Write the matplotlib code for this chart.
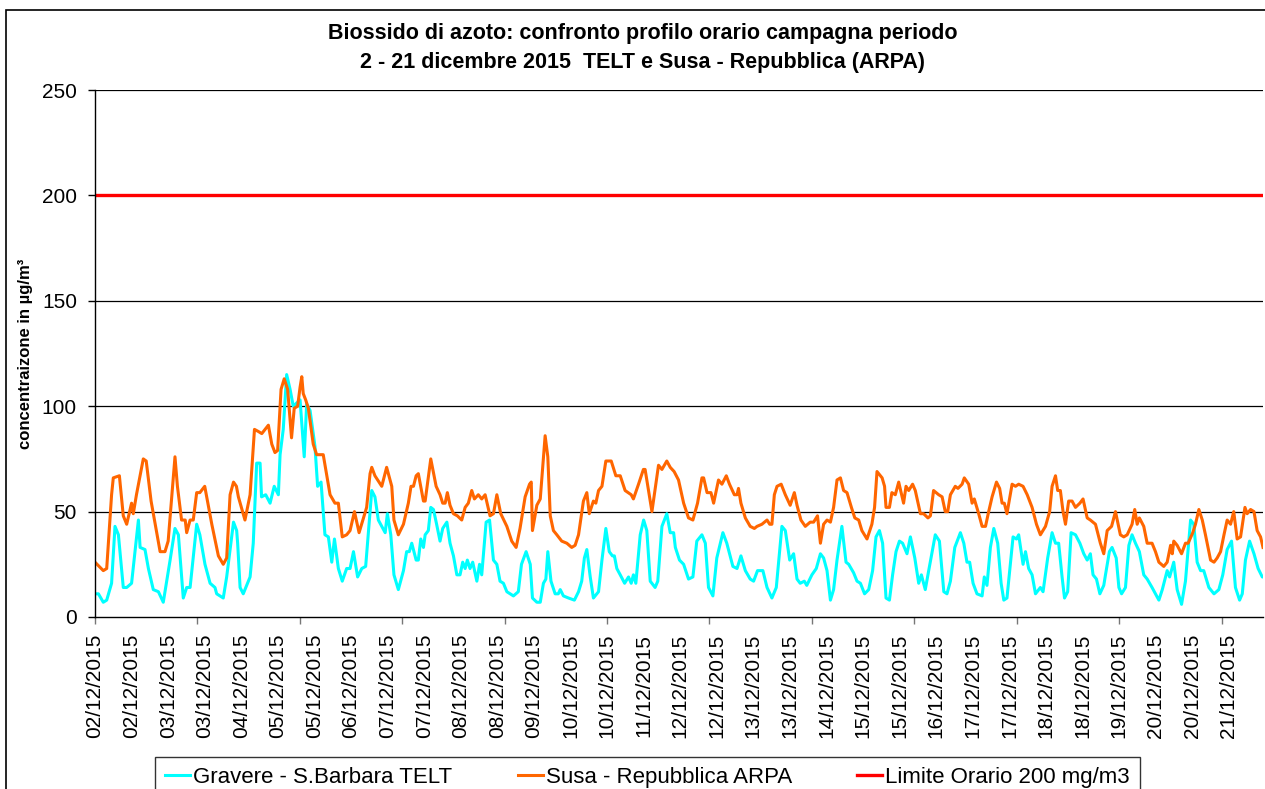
import matplotlib
matplotlib.use("Agg")
import matplotlib.pyplot as plt
from matplotlib.patches import Rectangle
import numpy as np

plt.rcParams['font.family'] = ['Liberation Sans', 'DejaVu Sans']

# ore dall'inizio campagna (02/12/2015 00:00) e valori
ore_gravere = [0, 1.4, 3.4, 4.8, 6.8, 8.2, 9.6, 11.6, 13, 15,
               17.8, 18.5, 20.5, 21.9, 23.9, 26, 28, 30.8, 32.8, 34.2,
               36.2, 37.6, 39, 41.7, 43, 45.1, 47.2, 49.2, 49.9, 52.6,
               54, 56.8, 58.1, 58.5, 59.5, 60.8, 63.6, 64.9, 66.3, 67.7,
               68.3, 70, 71.8, 73.5, 75.2, 75.9, 77.2, 78.6, 80, 81.3,
               84.1, 85.8, 86.8, 88.2, 90.2, 91.3, 92.7, 94.3, 95.7, 97.1,
               98.2, 99.8, 101.4, 103.2, 104.6, 106, 107.7, 109.4, 111, 113.5,
               114.8, 116.2, 117.6, 119, 119.9, 121.3, 122.6, 124.4, 126.5, 127.8,
               128.9, 129.9, 131.7, 132.6, 133.6, 134.7, 135.4, 136.7, 137.7, 138.8,
               140.1, 141.5, 142.6, 144.3, 145.6, 147, 148.4, 149.7, 150.8, 151.8,
               152.7, 153.8, 154.9, 156.6, 157.7, 158.6, 160.4, 161.8, 163.4, 164.8,
               166.1, 167.5, 168.9, 171.6, 173.6, 174.9, 176.8, 178.5, 179.4, 181.2,
               182.6, 183.9, 184.9, 185.7, 187, 188.7, 190, 190.8, 192.1, 194.2,
               196.6, 198.3, 199.6, 200.7, 201.7, 203.1, 204.4, 206.5, 207.9, 209.5,
               210.9, 212.2, 213, 214, 215.4, 217.2, 218.8, 219.9, 220.8, 221.8,
               223.6, 225, 226.3, 227.7, 229.7, 230.8, 232.5, 234.5, 235.9, 237.3,
               238, 239.7, 241.4, 243.4, 245.2, 246.8, 248.9, 250.3, 251.6, 253.4,
               255, 257.5, 259.1, 261.6, 263.3, 264.9, 266.7, 268.7, 270.1, 271.7,
               273.9, 275.6, 277.6, 279.4, 281.7, 283.1, 284.9, 286.5, 287.9, 289.2,
               290.9, 291.9, 294, 295.8, 297.5, 298.8, 300.2, 301.6, 302.9, 304.3,
               306.3, 308, 309.1, 311.1, 312.5, 313.9, 315.6, 317.3, 318.9, 320.3,
               321.7, 323, 324.4, 325.8, 327.1, 328.5, 329.9, 331.2, 333, 334.4,
               336.2, 337.8, 338.9, 340.5, 341.9, 344.6, 346.3, 348.1, 349.4, 350.8,
               352.6, 354.9, 356.3, 357.6, 358.7, 360.1, 361.7, 363.8, 364.7, 365.8,
               367.2, 368.6, 370.2, 371.6, 372.7, 374, 376.5, 377.9, 378.8, 380.6,
               381.6, 382.9, 384.3, 385.7, 387.7, 388.8, 390.7, 392.5, 393.9, 395.2,
               396.6, 397.6, 398.9, 400.3, 402.1, 403.9, 405.5, 406.9, 408.2, 409.3,
               410.7, 412.1, 413.7, 414.4, 416, 417.1, 418.8, 419.9, 421, 422.6,
               424, 425.3, 426.7, 428.3, 430.1, 431.5, 433.5, 434.9, 436.3, 437.7,
               439.7, 440.7, 442.4, 443.8, 445.6, 447.2, 449.3, 450.6, 452, 453.4,
               454.7, 456.8, 458.9, 460.9, 462.5, 464.3, 466.1, 467.7, 469.4, 470.5,
               471.8, 473.5, 475.3, 477, 478.7, 479]
gravere = [11, 11, 7, 8, 16, 43, 39, 14, 14, 16,
           46, 33, 32, 23, 13, 12, 7, 27, 42, 39,
           9, 14, 14, 44, 39, 25, 16, 14, 11, 9,
           19, 45, 41, 35, 14, 11, 19, 35, 73, 73,
           57, 58, 54, 62, 58, 77, 89, 115, 108, 100,
           103, 76, 101, 98, 81, 62, 64, 39, 38, 26,
           37, 23, 17, 23, 23, 31, 19, 23, 24, 60,
           57, 46, 43, 40, 49, 39, 20, 13, 22, 31,
           31, 35, 27, 27, 37, 33, 39, 41, 52, 51,
           44, 36, 42, 45, 35, 29, 20, 20, 26, 23,
           27, 23, 26, 17, 25, 20, 45, 46, 27, 25,
           17, 16, 12, 10, 12, 25, 31, 25, 9, 7,
           7, 16, 18, 31, 17, 11, 11, 13, 10, 9,
           8, 12, 17, 28, 32, 19, 9, 12, 27, 42,
           31, 29, 29, 23, 20, 16, 19, 16, 20, 16,
           39, 46, 41, 17, 14, 17, 43, 49, 40, 40,
           33, 27, 25, 18, 19, 36, 39, 35, 14, 10,
           28, 40, 35, 24, 23, 29, 22, 18, 17, 22,
           22, 14, 9, 14, 43, 41, 27, 30, 18, 16,
           17, 15, 20, 23, 30, 28, 22, 8, 13, 27,
           43, 26, 25, 21, 17, 16, 11, 13, 22, 38,
           41, 35, 9, 8, 20, 31, 36, 35, 30, 38,
           28, 16, 20, 13, 22, 39, 36, 12, 11, 17,
           33, 40, 35, 26, 26, 16, 11, 10, 19, 15,
           33, 42, 35, 16, 8, 9, 38, 37, 39, 25,
           31, 23, 20, 11, 14, 12, 28, 40, 35, 35,
           19, 9, 12, 40, 39, 35, 30, 27, 30, 20,
           18, 11, 15, 20, 31, 33, 28, 14, 11, 14,
           34, 39, 35, 31, 20, 18, 14, 11, 8, 13,
           22, 19, 26, 13, 6, 17, 46, 44, 26, 22,
           22, 14, 11, 13, 20, 32, 36, 14, 8, 11,
           27, 36, 30, 23, 19, 19]

ore_susa = [0, 3.4, 4.8, 5.5, 6.8, 7.5, 10, 11.6, 13, 15,
            15.7, 17, 19.8, 21, 23, 25, 26.7, 28.7, 30, 32.8,
            33.8, 35.5, 37, 37.6, 39, 40.3, 41.7, 43, 45, 47.9,
            50.6, 52.6, 54, 55.4, 56.8, 58, 58.8, 61.5, 63.6, 65.4,
            67, 68.4, 71.1, 72.5, 73.8, 74.9, 76.3, 77.6, 79, 80.6,
            81.7, 83.1, 84.1, 84.8, 85.4, 86.4, 87.5, 89.5, 90.9, 93.6,
            96.4, 98.4, 99.8, 101.4, 103.2, 104.6, 106.4, 108.3, 110.1, 111.4,
            112.8, 113.5, 114.8, 117.6, 119.6, 121.7, 122.6, 124.4, 126.5, 128.5,
            129.6, 130.6, 131.7, 132.6, 134.7, 135.4, 137.7, 139.9, 141.5, 142.6,
            143.6, 144.5, 145.6, 147, 148.6, 150.4, 151.8, 153.1, 154.5, 155.6,
            157.2, 158.6, 160, 162, 163.4, 164.8, 166.4, 168.9, 170.9, 172.7,
            174.3, 176.4, 178.2, 178.9, 179.4, 181.2, 182.6, 184.6, 185.7, 186.7,
            188, 189.4, 191.4, 193.5, 195.5, 196.9, 198.3, 200.3, 201.7, 202.7,
            204.4, 205.4, 206.5, 207.9, 209.5, 211.7, 213.6, 215.4, 217.4, 219.9,
            220.8, 222.9, 224.9, 225.6, 228.4, 231.1, 232.5, 234.5, 235.9, 237.5,
            239.3, 241.4, 243.4, 245.2, 247.1, 248.9, 249.6, 251, 252.6, 253.7,
            255.7, 257.1, 258.9, 260.2, 262.2, 263.3, 263.9, 264.9, 266.7, 268.7,
            270.4, 271.5, 273.5, 275.6, 276.7, 277.6, 278.6, 279.7, 281.4, 283.1,
            285.1, 286.8, 287.9, 289.5, 291.3, 293.3, 294.7, 296.3, 297.5, 298.8,
            300.2, 301.6, 302.9, 304.3, 305.7, 307, 308.4, 310.2, 311.6, 313.2,
            314.5, 316.6, 318.6, 319.7, 320.7, 322.8, 323.8, 324.4, 325.8, 326.8,
            328.2, 329.6, 331.6, 332.6, 333.7, 335.3, 336.4, 338.5, 339.8, 341.6,
            342.6, 343.9, 346, 347.4, 348.7, 349.7, 350.8, 352.8, 353.9, 355.6,
            356.5, 358.3, 359.7, 360.6, 362.4, 363.8, 365.2, 366.5, 367.9, 369.7,
            371, 372, 372.9, 374, 376.1, 377.5, 378.8, 380.6, 382.3, 384.3,
            386.1, 387.7, 389.8, 391.5, 392.5, 393.9, 394.8, 395.9, 397, 398,
            399.3, 400.7, 402.1, 403.9, 405.2, 406.9, 408.2, 410.3, 412.3, 413.7,
            415.1, 416.9, 418.5, 420.5, 421.9, 423.3, 425.3, 426.4, 427.4, 428.3,
            430.1, 431.5, 433.5, 434.9, 436.3, 438.3, 439.7, 441.1, 441.8, 442.4,
            443.8, 445.6, 447.2, 448.3, 450.2, 451.3, 452.7, 454.1, 455.4, 457.5,
            458.9, 460.2, 461.6, 463, 464.3, 465.7, 467, 468.4, 469.8, 470.7,
            471.6, 472.5, 473.9, 475.3, 476.6, 478, 479]
susa = [26, 22, 23, 35, 58, 66, 67, 48, 44, 54,
        49, 58, 75, 74, 55, 42, 31, 31, 36, 76,
        62, 46, 46, 40, 46, 46, 59, 59, 62, 44,
        29, 25, 28, 58, 64, 62, 57, 46, 58, 89,
        88, 87, 91, 82, 78, 79, 108, 113, 108, 85,
        99, 100, 109, 114, 106, 103, 99, 82, 77, 77,
        58, 54, 54, 38, 39, 41, 50, 40, 47, 52,
        68, 71, 67, 62, 71, 62, 46, 39, 44, 54,
        62, 62, 67, 68, 55, 55, 75, 62, 58, 54,
        54, 59, 53, 49, 48, 46, 52, 54, 60, 56,
        58, 56, 58, 48, 49, 58, 49, 43, 36, 33,
        42, 57, 63, 64, 41, 53, 56, 86, 76, 48,
        41, 39, 36, 35, 33, 34, 39, 55, 59, 49,
        55, 54, 60, 62, 74, 74, 67, 67, 60, 58,
        56, 63, 70, 70, 50, 72, 70, 74, 71, 69,
        65, 54, 47, 46, 54, 66, 66, 59, 59, 54,
        65, 63, 67, 63, 58, 58, 61, 54, 47, 43,
        42, 43, 44, 46, 44, 44, 58, 62, 63, 58,
        53, 59, 53, 46, 43, 45, 45, 48, 35, 44,
        46, 45, 52, 65, 66, 60, 59, 52, 47, 46,
        41, 37, 44, 52, 69, 66, 62, 52, 52, 59,
        58, 64, 54, 62, 60, 63, 60, 49, 49, 47,
        48, 60, 58, 57, 50, 50, 58, 62, 61, 63,
        66, 63, 54, 56, 49, 43, 43, 50, 57, 64,
        61, 54, 54, 49, 63, 62, 63, 62, 58, 52,
        44, 39, 43, 50, 62, 67, 60, 60, 50, 44,
        55, 55, 52, 54, 56, 47, 46, 44, 35, 30,
        41, 43, 50, 39, 38, 39, 44, 51, 44, 47,
        43, 35, 35, 31, 26, 24, 26, 34, 30, 36,
        34, 30, 35, 35, 40, 44, 51, 46, 39, 27,
        26, 28, 31, 39, 46, 44, 50, 37, 38, 45,
        52, 49, 51, 50, 41, 38, 33]

limite = 200
n_ore = 480

etichette = ['02/12/2015', '02/12/2015', '03/12/2015', '03/12/2015', '04/12/2015',
             '05/12/2015', '05/12/2015', '06/12/2015', '07/12/2015', '07/12/2015',
             '08/12/2015', '08/12/2015', '09/12/2015', '10/12/2015', '10/12/2015',
             '11/12/2015', '12/12/2015', '12/12/2015', '13/12/2015', '13/12/2015',
             '14/12/2015', '15/12/2015', '15/12/2015', '16/12/2015', '17/12/2015',
             '17/12/2015', '18/12/2015', '18/12/2015', '19/12/2015', '20/12/2015',
             '20/12/2015', '21/12/2015']

W, H = 1265, 789
fig = plt.figure(figsize=(W / 100, H / 100), dpi=100)
ax = fig.add_axes([95 / W, 1 - 617 / H, (1263 - 95) / W, (617 - 90) / H])

ax.plot(ore_gravere, gravere, color='#00FFFF', lw=2.2, label='Gravere - S.Barbara TELT')
ax.plot(ore_susa, susa, color='#FF6600', lw=2.2, label='Susa - Repubblica ARPA')
ax.plot([0, n_ore - 1], [limite, limite], color='#FF0000', lw=2.4, label='Limite Orario 200 mg/m3')

ax.set_xlim(0, n_ore - 1)
ax.set_ylim(0, 250)
ax.set_yticks(np.arange(0, 251, 50))
for v in range(50, 251, 50):
    ax.axhline(v, color='black', lw=0.9, zorder=0)

# tacche ogni 42 ore, etichette ogni 15 ore
ax.xaxis.remove_overlapping_locs = False
ax.set_xticks(np.arange(0, n_ore, 42))
ax.set_xticklabels([])
ax.set_xticks(np.arange(0, n_ore, 15), minor=True)
ax.set_xticklabels(etichette, minor=True, rotation=90, fontsize=15)
ax.tick_params(axis='x', which='major', direction='out', length=5, width=1, color='#777777')
ax.tick_params(axis='x', which='minor', length=0, pad=12)
ax.tick_params(axis='y', direction='out', length=5, width=1, labelsize=15, pad=8)

for s in ['top', 'right']:
    ax.spines[s].set_visible(False)
ax.spines['left'].set_linewidth(1)
ax.spines['bottom'].set_linewidth(1)

ax.set_ylabel('concentraizone in µg/m³', fontsize=12, fontweight='bold')
ax.yaxis.set_label_coords(-62 / 1168, 0.5)

fig.text(643 / W, 1 - 48 / H,
         'Biossido di azoto: confronto profilo orario campagna periodo\n'
         '2 - 21 dicembre 2015  TELT e Susa - Repubblica (ARPA)',
         ha='center', va='center', fontsize=15.5, fontweight='bold', linespacing=1.45)

leg = fig.legend(loc='upper left', bbox_to_anchor=(155 / W, 1 - 757 / H, (1140 - 155) / W, 0),
                 mode='expand', ncol=3, fontsize=16, frameon=True, fancybox=False,
                 edgecolor='black', handlelength=1.13, handletextpad=0.13,
                 borderaxespad=0, borderpad=0.45)
leg.get_frame().set_linewidth(1)

# bordo dell'area del grafico
fig.patches.append(Rectangle((6 / W, -0.05), 1.1, 1 - 10 / H + 0.05,
                             transform=fig.transFigure, fill=False,
                             edgecolor='black', lw=1.2))

fig.savefig('out.png', dpi=100)
